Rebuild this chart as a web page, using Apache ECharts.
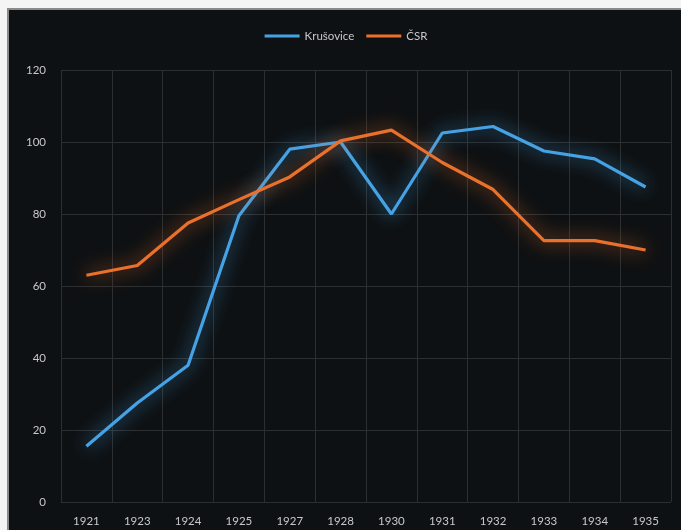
<!DOCTYPE html>
<html>
<head>
<meta charset="utf-8">
<script src="https://cdn.jsdelivr.net/npm/echarts@6/dist/echarts.min.js"></script>
<style>
html,body{margin:0;padding:0;background:#f4f4f4;width:681px;height:530px;overflow:hidden;}
#frame{position:absolute;left:7px;top:8px;width:674px;height:522px;border-top:2px solid #8a8a8a;border-left:2px solid #8a8a8a;background:#0e1113;}
#chart{width:674px;height:522px;}
</style>
</head>
<body>
<div id="frame"><div id="chart"></div></div>
<script>
var years = ['1921','1923','1924','1925','1927','1928','1930','1931','1932','1933','1934','1935'];
var krusovice = [15.5, 27.5, 38, 79.5, 98, 100, 80, 102.5, 104.3, 97.5, 95.3, 87.5];
var csr = [63, 65.7, 77.5, 84, 90.3, 100.3, 103.3, 94.3, 86.8, 72.6, 72.6, 70];
var yTicks = {min: 0, max: 120, interval: 20};

var chart = echarts.init(document.getElementById('chart'), null, {renderer: 'canvas'});
var labelStyle = {color: '#c8c8c8', fontSize: 11.5, fontFamily: 'Lato'};
function glowLine(name, data, color) {
  return {
    name: name, type: 'line', data: data, symbol: 'none',
    lineStyle: {color: color, width: 3.2, shadowColor: color, shadowBlur: 18},
    itemStyle: {color: color}
  };
}
chart.setOption({
  backgroundColor: '#0e1113',
  animation: false,
  legend: {
    top: 15, left: 'center',
    icon: 'rect', itemWidth: 35, itemHeight: 3, itemGap: 12,
    textStyle: {color: '#c8c8c8', fontSize: 11.5, fontFamily: 'Lato'},
    data: ['Krušovice', 'ČSR']
  },
  grid: {left: 52, right: 12, top: 60, bottom: 30},
  xAxis: {
    type: 'category', data: years, boundaryGap: true,
    axisLine: {show: false}, axisTick: {show: false},
    axisLabel: Object.assign({margin: 13}, labelStyle),
    splitLine: {show: true, lineStyle: {color: '#2c2f31', width: 1}}
  },
  yAxis: {
    type: 'value', min: yTicks.min, max: yTicks.max, interval: yTicks.interval,
    axisLine: {show: false}, axisTick: {show: false},
    axisLabel: Object.assign({margin: 15}, labelStyle),
    splitLine: {show: true, lineStyle: {color: '#2c2f31', width: 1}}
  },
  series: [
    glowLine('Krušovice', krusovice, '#45a2e4'),
    glowLine('ČSR', csr, '#ea712b')
  ]
});
</script>
</body>
</html>
